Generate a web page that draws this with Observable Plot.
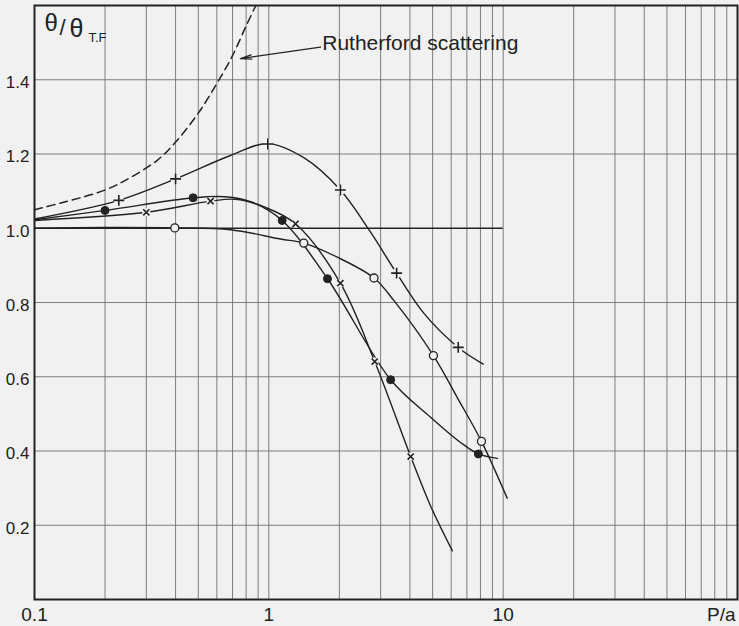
<!DOCTYPE html>
<html>
<head>
<meta charset="utf-8">
<script src="https://cdn.jsdelivr.net/npm/d3@7"></script>
<script src="https://cdn.jsdelivr.net/npm/@observablehq/plot@0.6"></script>
<style>
  html, body { margin: 0; padding: 0; background: #f1f1f1; }
  #chart svg { display: block; }
</style>
</head>
<body>
<div id="chart"></div>
<script>
// Ratio of scattering angle to the Thomas–Fermi value, against P/a (log scale)

const xTicks = [0.1, 1, 10];
const yTicks = [0.2, 0.4, 0.6, 0.8, 1.0, 1.2, 1.4];
const xGrid = [0.2, 0.3, 0.4, 0.5, 0.6, 0.7, 0.8, 0.9, 1, 2, 3, 4, 5, 6, 7, 8, 9, 10, 20, 30, 40, 50, 60, 70, 80, 90];
const yGrid = [0.2, 0.4, 0.6, 0.8, 1.2, 1.4];

// Rutherford scattering (dashed)
const rutherfordX = [0.1, 0.133, 0.2, 0.257, 0.334, 0.4, 0.5, 0.6, 0.7, 0.8, 0.88];
const rutherfordY = [1.05, 1.07, 1.103, 1.137, 1.183, 1.232, 1.31, 1.39, 1.465, 1.545, 1.6];

// curve through the "+" points
const plusX = [0.1, 0.229, 0.4, 0.686, 0.99, 1.41, 2.02, 2.7, 3.51, 4.6, 6.43, 8.22];
const plusY = [1.025, 1.075, 1.133, 1.196, 1.228, 1.19, 1.103, 0.992, 0.879, 0.77, 0.679, 0.634];
const plusMarkX = [0.229, 0.4, 0.99, 2.02, 3.51, 6.43];
const plusMarkY = [1.075, 1.133, 1.227, 1.103, 0.879, 0.679];

// curve through the filled circles
const filledX = [0.1, 0.2, 0.475, 0.65, 0.85, 1.14, 1.78, 3.31, 4.9, 6.58, 7.84, 9.45];
const filledY = [1.023, 1.048, 1.082, 1.085, 1.07, 1.021, 0.864, 0.592, 0.491, 0.423, 0.392, 0.38];
const filledMarkX = [0.2, 0.475, 1.14, 1.78, 3.31, 7.84];
const filledMarkY = [1.048, 1.082, 1.021, 0.864, 0.592, 0.392];

// curve through the "×" points
const crossX = [0.1, 0.3, 0.564, 0.72, 0.95, 1.3, 2.02, 2.83, 4.03, 4.9, 6.07];
const crossY = [1.021, 1.043, 1.073, 1.078, 1.058, 1.012, 0.852, 0.641, 0.385, 0.252, 0.131];
const crossMarkX = [0.3, 0.564, 1.3, 2.02, 2.83, 4.03];
const crossMarkY = [1.043, 1.073, 1.012, 0.852, 0.641, 0.385];

// curve through the open circles
const openX = [0.1, 0.2, 0.397, 0.686, 1.12, 1.41, 1.96, 2.81, 3.42, 5.04, 6.37, 8.08, 10.4];
const openY = [1.0, 1.002, 1.001, 0.996, 0.971, 0.96, 0.922, 0.866, 0.805, 0.657, 0.544, 0.426, 0.273];
const openMarkX = [0.397, 1.41, 2.81, 5.04, 8.08];
const openMarkY = [1.001, 0.96, 0.866, 0.657, 0.426];

// unit reference line
const unitLineX = [0.1, 10];
const unitLineY = 1.0;

// annotation
const noteText = "Rutherford scattering";
const noteX = 1.69, noteY = 1.497;
const arrowFrom = [1.66, 1.488];
const arrowTo = [0.757, 1.457];

const zip = (xs, ys) => xs.map((x, i) => ({x, y: ys[i]}));

const bg = "#f1f1f1";
const ink = "#222";
const font = "'Liberation Sans', Arial, sans-serif";

const chart = Plot.plot({
  width: 739,
  height: 626,
  marginLeft: 34,
  marginRight: 2,
  marginTop: 5,
  marginBottom: 27,
  style: {background: bg, fontFamily: font, color: ink},
  x: {type: "log", domain: [0.1, 100]},
  y: {domain: [0, 1.6]},
  marks: [
    Plot.ruleX(xGrid, {stroke: "#707070", strokeWidth: 0.9}),
    Plot.ruleY(yGrid, {stroke: "#707070", strokeWidth: 0.9}),
    Plot.ruleY([unitLineY], {x1: unitLineX[0], x2: unitLineX[1], stroke: ink, strokeWidth: 1.7}),

    Plot.line(zip(rutherfordX, rutherfordY), {x: "x", y: "y", curve: "catmull-rom", stroke: ink, strokeWidth: 1.5, strokeDasharray: "8,5"}),
    Plot.line(zip(plusX, plusY), {x: "x", y: "y", curve: "catmull-rom", stroke: ink, strokeWidth: 1.4}),
    Plot.line(zip(filledX, filledY), {x: "x", y: "y", curve: "catmull-rom", stroke: ink, strokeWidth: 1.4}),
    Plot.line(zip(crossX, crossY), {x: "x", y: "y", curve: "catmull-rom", stroke: ink, strokeWidth: 1.4}),
    Plot.line(zip(openX, openY), {x: "x", y: "y", curve: "catmull-rom", stroke: ink, strokeWidth: 1.4}),

    // small gaps in the curves around the + and × symbols
    Plot.dot(zip(plusMarkX, plusMarkY), {x: "x", y: "y", r: 5, fill: bg, stroke: "none"}),
    Plot.dot(zip(crossMarkX, crossMarkY), {x: "x", y: "y", r: 4, fill: bg, stroke: "none"}),

    Plot.dot(zip(plusMarkX, plusMarkY), {x: "x", y: "y", symbol: "plus", r: 3.6, stroke: ink, strokeWidth: 1.6}),
    Plot.dot(zip(crossMarkX, crossMarkY), {x: "x", y: "y", symbol: "times", r: 2.9, stroke: ink, strokeWidth: 1.6}),
    Plot.dot(zip(filledMarkX, filledMarkY), {x: "x", y: "y", r: 4, fill: ink, stroke: ink, strokeWidth: 1}),
    Plot.dot(zip(openMarkX, openMarkY), {x: "x", y: "y", r: 4, fill: bg, stroke: ink, strokeWidth: 1.3}),

    Plot.arrow([{}], {x1: () => arrowFrom[0], y1: () => arrowFrom[1], x2: () => arrowTo[0], y2: () => arrowTo[1], stroke: ink, strokeWidth: 1.4, headLength: 12, headAngle: 22}),
    Plot.text([noteText], {x: () => noteX, y: () => noteY, text: d => d, textAnchor: "start", lineAnchor: "middle", fontSize: 21, fill: ink}),

    Plot.frame({stroke: ink, strokeWidth: 2}),

    Plot.axisX({ticks: xTicks, tickSize: 0, tickPadding: 8, fontSize: 19, tickFormat: d => String(d), label: null}),
    Plot.axisY({ticks: yTicks, tickSize: 0, tickPadding: 5, fontSize: 17, dy: 3, tickFormat: d => d.toFixed(1), label: null}),

    Plot.text(["P/a"], {frameAnchor: "bottom-right", text: d => d, textAnchor: "end", lineAnchor: "top", dx: -2, dy: 8, fontSize: 19, fill: ink}),

    // axis title θ/θ_T.F
    Plot.text(["θ"], {frameAnchor: "top-left", text: d => d, textAnchor: "start", lineAnchor: "top", dx: 10, dy: 8, fontSize: 24, fill: ink}),
    Plot.text(["/"], {frameAnchor: "top-left", text: d => d, textAnchor: "start", lineAnchor: "top", dx: 25, dy: 14, fontSize: 22, fill: ink}),
    Plot.text(["θ"], {frameAnchor: "top-left", text: d => d, textAnchor: "start", lineAnchor: "top", dx: 35, dy: 14, fontSize: 25, fill: ink}),
    Plot.text(["T.F"], {frameAnchor: "top-left", text: d => d, textAnchor: "start", lineAnchor: "top", dx: 54, dy: 27, fontSize: 13, fill: ink})
  ]
});

document.getElementById("chart").append(chart);
</script>
</body>
</html>
